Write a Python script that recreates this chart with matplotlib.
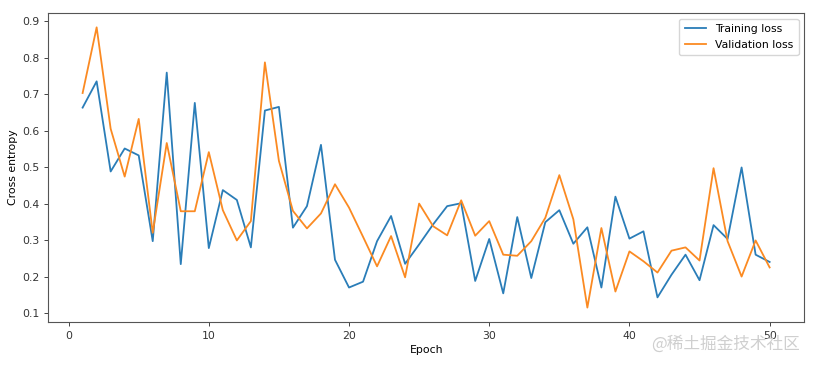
import matplotlib
matplotlib.use("Agg")
import matplotlib.pyplot as plt

epochs = list(range(1, 51))
training_loss = [0.664, 0.736, 0.489, 0.552, 0.533, 0.298, 0.760, 0.235, 0.677, 0.279,
                 0.438, 0.411, 0.281, 0.656, 0.666, 0.335, 0.394, 0.562, 0.247, 0.171,
                 0.187, 0.298, 0.367, 0.236, 0.289, 0.344, 0.394, 0.402, 0.189, 0.304,
                 0.155, 0.364, 0.197, 0.350, 0.383, 0.291, 0.336, 0.171, 0.420, 0.305,
                 0.325, 0.144, 0.206, 0.261, 0.191, 0.342, 0.304, 0.500, 0.261, 0.241]
validation_loss = [0.704, 0.884, 0.606, 0.475, 0.633, 0.321, 0.567, 0.380, 0.380, 0.542,
                   0.383, 0.300, 0.353, 0.788, 0.518, 0.381, 0.333, 0.374, 0.454, 0.390,
                   0.310, 0.229, 0.312, 0.199, 0.401, 0.339, 0.314, 0.410, 0.313, 0.353,
                   0.261, 0.258, 0.298, 0.362, 0.479, 0.358, 0.116, 0.334, 0.160, 0.270,
                   0.243, 0.212, 0.272, 0.281, 0.245, 0.498, 0.298, 0.201, 0.300, 0.226]

fs = 7.8
fig = plt.figure(figsize=(8.14, 3.66), dpi=100)
ax = fig.add_axes([0.0593, 0.1213, 0.9284, 0.8423])
ax.plot(epochs, training_loss, color="#2a7db8", lw=1.3, label="Training loss")
ax.plot(epochs, validation_loss, color="#fb8a22", lw=1.3, label="Validation loss")
ax.set_xlabel("Epoch", fontsize=fs, labelpad=3)
ax.set_ylabel("Cross entropy", fontsize=fs, labelpad=3)
ax.tick_params(labelsize=fs, width=0.7, length=3, colors="#444444", labelcolor="#333333")
for s in ax.spines.values():
    s.set_linewidth(0.8)
    s.set_color("#555555")
leg = ax.legend(fontsize=fs, loc="upper right", framealpha=0.8, borderpad=0.5)
fig.text(0.983, 0.06, "@稀土掘金技术社区", ha="right", va="center", fontsize=12,
         color="#cfcfcf", family=["Noto Sans CJK SC", "DejaVu Sans"])
fig.savefig("out.png", dpi=100)
